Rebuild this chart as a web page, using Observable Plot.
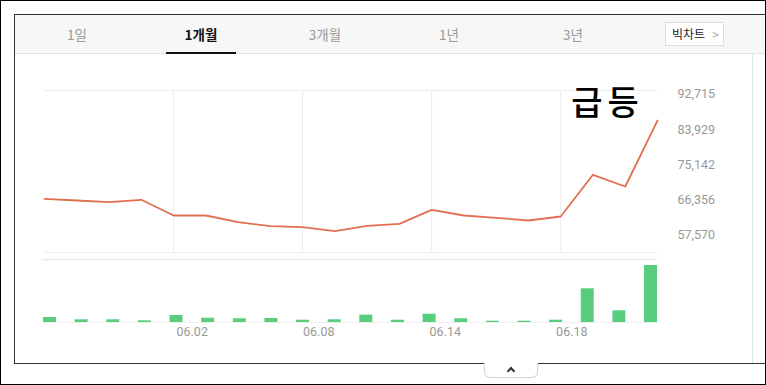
<!DOCTYPE html>
<html>
<head>
<meta charset="utf-8">
<script src="https://cdn.jsdelivr.net/npm/d3@7"></script>
<script src="https://cdn.jsdelivr.net/npm/@observablehq/plot@0.6"></script>
<style>
  html, body { margin: 0; padding: 0; background: #fff; }
  #root { position: relative; width: 766px; height: 385px; overflow: hidden; background: #fff; font-family: "Noto Sans CJK KR", "Noto Sans", sans-serif; }
  #outer { position: absolute; left: 0; top: 0; width: 766px; height: 385px; border: 1px solid #000; box-sizing: border-box; z-index: 5; pointer-events: none; }
  #panel { position: absolute; left: 14px; top: 14px; width: 770px; height: 350px; border: 1px solid #333; box-sizing: border-box; background: #fff; }
  #innerRight { position: absolute; left: 752px; top: 54px; width: 1px; height: 309px; background: #e2e2e2; }
  #tabs { position: absolute; left: 15px; top: 15px; width: 760px; height: 38px; background: #f7f7f7; border-bottom: 1px solid #e4e4e4; }
  .tab { position: absolute; top: 0; width: 124px; height: 38px; line-height: 38px; text-align: center; font-size: 13.5px; color: #999; }
  .tab.active { color: #111; font-weight: 700; }
  .tab.active::after { content: ""; position: absolute; left: 27px; width: 70px; bottom: -1px; height: 2px; background: #111; }
  #big { position: absolute; left: 665px; top: 22px; width: 59px; height: 24px; background: #fff; border: 1px solid #ddd; box-sizing: border-box; font-size: 12px; color: #222; line-height: 22px; padding-left: 6px; }
  #big span { color: #aaa; margin-left: 7px; font-size: 12px; }
  #handle { position: absolute; left: 484px; top: 363px; width: 52px; height: 14px; border: 1px solid #d4d4d4; border-top: none; border-radius: 0 0 6px 6px; background: #fff; }
  #handle::after { content: ""; position: absolute; left: 23px; top: 5px; width: 4px; height: 4px; border-left: 2px solid #333; border-top: 2px solid #333; transform: rotate(45deg); }
  .chart { position: absolute; left: 0; }
</style>
</head>
<body>
<div id="root">
  <div id="panel"></div>
  <div id="innerRight"></div>
  <div id="tabs"></div>
  <div id="big">빅차트<span>&gt;</span></div>
  <div id="handle"></div>
  <div id="price" class="chart" style="top:0"></div>
  <div id="volume" class="chart" style="top:250px"></div>
  <div id="outer"></div>
</div>
<script>
// ---- data ----
const tabLabels = ["1일", "1개월", "3개월", "1년", "3년"];
const activeTab = "1개월";
const dates = ["05.27","05.28","05.31","06.01","06.02","06.03","06.04","06.07","06.08","06.09",
               "06.10","06.11","06.14","06.15","06.16","06.17","06.18","06.21","06.22","06.23"];
const prices = [66600, 66180, 65760, 66360, 62430, 62430, 60750, 59750, 59500, 58500,
                59850, 60350, 63850, 62430, 61850, 61180, 62180, 72620, 69690, 86200];
const volumes = [500, 270, 270, 170, 700, 430, 370, 400, 230, 270,
                 740, 230, 830, 370, 130, 130, 230, 3370, 1170, 5700];
const priceTicks = [57570, 66356, 75142, 83929, 92715];
const dateTicks = ["06.02", "06.08", "06.14", "06.18"];
const annotations = [{label: "급등", idx: 17.45, value: 90300}];

// ---- tabs ----
const tabs = document.getElementById("tabs");
tabLabels.forEach((t, i) => {
  const d = document.createElement("div");
  d.className = "tab" + (t === activeTab ? " active" : "");
  d.style.left = (i * 124) + "px";
  d.textContent = t;
  tabs.appendChild(d);
});

const priceData = dates.map((d, i) => ({i, date: d, price: prices[i]}));
const volData = dates.map((d, i) => ({i, date: d, volume: volumes[i]}));
const gridIdx = dateTicks.map(t => dates.indexOf(t));

// ---- price chart ----
const price = Plot.plot({
  width: 766,
  height: 260,
  marginLeft: 44,
  marginRight: 109,
  marginTop: 90,
  marginBottom: 8,
  style: {background: "none", fontFamily: "Roboto, sans-serif", overflow: "visible"},
  x: {domain: [0, dates.length - 1], axis: null},
  y: {domain: [53170, 93716], axis: null},
  marks: [
    Plot.ruleX(gridIdx, {x: d => d, stroke: "#ececec", strokeWidth: 1}),
    Plot.ruleY([93716], {stroke: "#ececec"}),
    Plot.ruleY([53170], {stroke: "#ececec"}),
    Plot.axisY({anchor: "right", ticks: priceTicks, tickSize: 0, tickPadding: 20,
                tickFormat: d3.format(","), fill: "#999", fontSize: 12.5, label: null}),
    Plot.line(priceData, {x: "i", y: "price", stroke: "#e36f52", strokeWidth: 1.8}),
    Plot.text(annotations, {x: "idx", y: "value", text: "label", fontSize: 34,
      fontFamily: "Noto Sans CJK KR", fontWeight: 500, fill: "#000", textAnchor: "middle"})
  ]
});
d3.select(price).selectAll("text").filter(function() { return this.textContent === "급등"; })
  .attr("letter-spacing", "5px");
document.getElementById("price").appendChild(price);

// ---- volume chart ----
const volume = Plot.plot({
  width: 766,
  height: 100,
  marginLeft: 43,
  marginRight: 109,
  marginTop: 9,
  marginBottom: 28,
  style: {background: "none", fontFamily: "Roboto, sans-serif", overflow: "visible"},
  x: {type: "band", domain: dates, paddingInner: 0.59, paddingOuter: 0, round: false, axis: null},
  y: {domain: [0, 6300], axis: null},
  marks: [
    Plot.ruleY([6300], {stroke: "#e8e8e8", strokeWidth: 1.5}),
    Plot.ruleY([0], {stroke: "#f0f0f0"}),
    Plot.barY(volData, {x: "date", y: "volume", fill: "#58cd7e"}),
    Plot.axisX({ticks: dateTicks, tickSize: 0, tickPadding: 5, textAnchor: "start",
                fill: "#999", fontSize: 12.5, label: null})
  ]
});
document.getElementById("volume").appendChild(volume);
</script>
</body>
</html>
